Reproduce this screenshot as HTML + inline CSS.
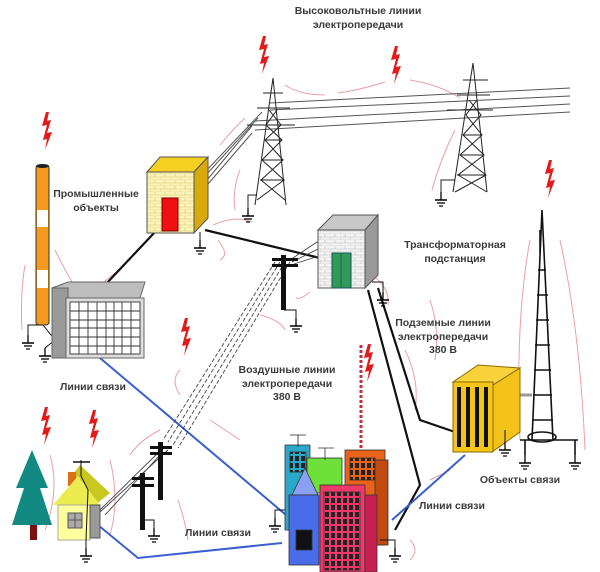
<!DOCTYPE html>
<html><head><meta charset="utf-8"><style>
html,body{margin:0;padding:0;background:#fff}
svg{display:block}
text{font-family:"Liberation Sans",sans-serif;font-weight:bold;font-size:10.5px;fill:#3a3a3a;text-anchor:middle}
</style></head><body>
<svg width="600" height="572" viewBox="0 0 600 572" xmlns="http://www.w3.org/2000/svg">
<defs>
<g id="gnd"><line x1="0" y1="0" x2="0" y2="8" stroke="#000" stroke-width="1.3"/><line x1="-6" y1="8" x2="6" y2="8" stroke="#000" stroke-width="1.5"/><line x1="-4" y1="11" x2="4" y2="11" stroke="#000" stroke-width="1.3"/><line x1="-2" y1="14" x2="2" y2="14" stroke="#000" stroke-width="1.2"/></g>
<g id="bolt"><path d="M0,0 L-4,14 L1,13 L-3,28 L1,27 L-1,38 L6,20 L1,21 L5,8 L1,9 L3,0 Z" fill="#e21a1a"/></g>
<pattern id="brick" width="10" height="6" patternUnits="userSpaceOnUse"><rect width="10" height="6" fill="#fbf3b8"/><path d="M0,6H10M0,3H10M5,0V3M0,3V6" stroke="#d8c878" stroke-width="0.6" fill="none"/></pattern>
<pattern id="brickg" width="10" height="6" patternUnits="userSpaceOnUse"><rect width="10" height="6" fill="#f3f3f3"/><path d="M0,6H10M0,3H10M5,0V3M0,3V6" stroke="#bbb" stroke-width="0.6" fill="none"/></pattern>
<pattern id="win" width="6" height="7" patternUnits="userSpaceOnUse"><rect width="6" height="7" fill="none"/><rect x="1" y="1" width="4" height="5" fill="#222"/></pattern>
</defs>

<text x="358" y="14">Высоковольтные линии</text>
<text x="358" y="28">электропередачи</text>

<g stroke="#e8a0a8" stroke-width="1" fill="none">
<path d="M285,85 Q300,95 325,95"/><path d="M385,82 Q360,90 338,93"/><path d="M410,80 Q440,85 460,98"/>
<path d="M245,118 Q232,130 220,145"/><path d="M240,170 Q232,190 235,210"/><path d="M455,130 Q440,160 432,190"/>
<path d="M213,225 Q235,215 252,222"/><path d="M218,240 Q230,255 220,260"/><path d="M55,250 Q65,270 72,282"/>
<path d="M25,265 Q20,295 22,330"/><path d="M100,285 L125,265"/><path d="M260,315 Q280,320 285,330"/>
<path d="M310,292 Q300,300 296,298"/><path d="M376,278 Q390,290 388,305"/><path d="M180,370 Q170,380 180,395"/>
<path d="M210,420 L240,440"/><path d="M160,430 Q140,440 130,455"/><path d="M110,460 Q120,500 110,535"/>
<path d="M50,455 Q60,490 45,530"/><path d="M178,500 Q185,520 188,540"/><path d="M405,350 Q420,380 415,410"/>
<path d="M430,300 Q440,330 435,360"/><path d="M505,400 Q495,420 500,450"/><path d="M560,240 Q580,330 585,450"/>
<path d="M530,240 Q515,320 520,440"/><path d="M410,540 Q420,550 410,560"/><path d="M430,480 L450,470"/>
</g>

<!-- power lines -->
<g stroke="#555" stroke-width="1">
<line x1="270" y1="103" x2="570" y2="88"/><line x1="270" y1="110" x2="570" y2="96"/>
<line x1="255" y1="121" x2="570" y2="104"/><line x1="255" y1="130" x2="570" y2="112"/>
<line x1="262" y1="112" x2="205" y2="172"/><line x1="258" y1="118" x2="205" y2="176"/><line x1="252" y1="126" x2="207" y2="180"/><line x1="252" y1="133" x2="208" y2="184"/>
</g>
<!-- towers -->
<g stroke="#222" stroke-width="1" fill="none">
<path d="M273,78 L255,205 M273,78 L286,205 M263,93 H283 M257,108 H290 M247,125 H295"/>
<path d="M269,110 L281,125 L265,140 L283,160 L261,180 L285,200 M277,110 L266,125 L282,140 L262,160 L284,180 L257,200"/>
<path d="M266,140H282M263,160H283M260,180H285"/>
<path d="M473,63 L453,192 M473,63 L487,192 M463,80 H488 M457,95 H490 M447,110 H493"/>
<path d="M469,100 L481,115 L463,135 L484,155 L458,175 L487,192 M477,100 L466,115 L482,135 L460,155 L486,175 L455,192"/>
<path d="M464,135H482M461,155H484M457,175H486"/>
<path d="M257,195 H248 V208 M455,180 H441 V192"/>
</g>
<use href="#gnd" x="248" y="208"/><use href="#gnd" x="441" y="192"/>

<use href="#bolt" x="263" y="36"/><use href="#bolt" x="395" y="46"/><use href="#bolt" x="46" y="112"/>
<use href="#bolt" x="549" y="160"/><use href="#bolt" x="185" y="318"/><use href="#bolt" x="368" y="344"/>
<use href="#bolt" x="45" y="407"/><use href="#bolt" x="93" y="410"/>

<g stroke="#111" stroke-width="2.2" fill="none">
<line x1="205" y1="230" x2="320" y2="258"/>
<line x1="155" y1="232" x2="105" y2="285"/>
<path d="M378,288 L420,420 L455,432"/>
<path d="M368,290 L420,485 L395,530"/>
</g>

<g stroke="#3a5fd0" stroke-width="2" fill="none">
<line x1="100" y1="358" x2="286" y2="515"/>
<path d="M98,525 L138,558 L282,543"/>
<line x1="392" y1="520" x2="465" y2="455"/>
</g>

<g stroke="#444" stroke-width="0.9" stroke-dasharray="4,2" fill="none">
<line x1="275" y1="262" x2="163" y2="440"/><line x1="280" y1="262" x2="168" y2="442"/>
<line x1="285" y1="262" x2="173" y2="445"/><line x1="290" y1="262" x2="178" y2="448"/>
</g>
<g stroke="#444" stroke-width="0.9" fill="none">
<path d="M163,448 L100,510 M168,450 L100,512 M160,455 L105,515"/>
<path d="M290,260 L320,240 M292,262 L320,248 M294,264 L322,255"/>
</g>

<!-- chimney -->
<rect x="36" y="165" width="13" height="160" rx="3" fill="#f39a1f" stroke="#333" stroke-width="1"/>
<rect x="37" y="210" width="11" height="17" fill="#fff"/><rect x="37" y="270" width="11" height="18" fill="#fff"/>
<ellipse cx="42.5" cy="166" rx="6.5" ry="2" fill="#222"/>
<path d="M43,325 L28,325 L28,335 M43,325 L55,340 L45,348" stroke="#111" fill="none"/>
<use href="#gnd" x="28" y="335"/><use href="#gnd" x="45" y="348"/>

<!-- gray grid box -->
<path d="M52,288 L68,282 L145,282 L140,298 L68,298 Z" fill="#bdbdbd" stroke="#666"/>
<rect x="52" y="288" width="16" height="70" fill="#9a9a9a" stroke="#666"/>
<rect x="66" y="298" width="78" height="60" fill="#ddd" stroke="#666"/>
<g stroke="#333" stroke-width="0.9" fill="#fff">
<rect x="70" y="302" width="70" height="52"/>
<path d="M79,302V354M88,302V354M97,302V354M106,302V354M114,302V354M122,302V354M131,302V354M70,311H140M70,320H140M70,328H140M70,337H140M70,346H140"/>
</g>

<!-- factory -->
<path d="M147,172 L160,157 L208,157 L194,172 Z" fill="#f5d020" stroke="#555"/>
<path d="M194,172 L208,157 L208,218 L194,233 Z" fill="#d9a90c" stroke="#555"/>
<rect x="147" y="172" width="47" height="61" fill="url(#brick)" stroke="#555"/>
<rect x="162" y="198" width="16" height="33" fill="#f01010" stroke="#700"/>
<path d="M200,232 V240" stroke="#111"/><use href="#gnd" x="200" y="240"/>

<!-- substation -->
<path d="M318,230 L333,215 L378,215 L365,230 Z" fill="#c8c8c8" stroke="#555"/>
<path d="M365,230 L378,215 L378,275 L365,288 Z" fill="#9a9a9a" stroke="#555"/>
<rect x="318" y="230" width="47" height="58" fill="url(#brickg)" stroke="#555"/>
<rect x="332" y="253" width="19" height="35" fill="#2f9a5a" stroke="#155"/>
<path d="M341,253V288" stroke="#1a6a3a"/>
<path d="M372,282 H383 V292" stroke="#111" fill="none"/><use href="#gnd" x="383" y="292"/>

<rect x="281" y="255" width="5" height="55" fill="#111"/>
<rect x="272" y="258" width="26" height="3" fill="#111"/><rect x="272" y="264" width="26" height="3" fill="#111"/>
<path d="M284,310 H296 V318" stroke="#111" fill="none"/><use href="#gnd" x="296" y="318"/>

<text x="96" y="197">Промышленные</text><text x="96" y="211">объекты</text>
<text x="455" y="248">Трансформаторная</text><text x="455" y="262">подстанция</text>
<text x="443" y="326">Подземные линии</text><text x="443" y="340">электропередачи</text><text x="443" y="353">380 В</text>
<text x="287" y="373">Воздушные линии</text><text x="287" y="387">электропередачи</text><text x="287" y="400">380 В</text>
<text x="93" y="390">Линии связи</text>
<text x="520" y="483">Объекты связи</text>
<text x="452" y="509">Линии связи</text>
<text x="218" y="536">Линии связи</text>

<!-- right tower -->
<g stroke="#111" stroke-width="1.6" fill="none">
<path d="M542,210 L532,440 M542,210 L553,440 M540,230 V255"/>
<path d="M538,270H546M537,295H548M536,320H549M535,345H550M534,370H551M533,395H552M532,420H553"/>
<ellipse cx="542" cy="437" rx="14" ry="5"/>
<path d="M520,440 H578 M525,440 V455 M575,440 V455"/>
</g>
<use href="#gnd" x="525" y="455"/><use href="#gnd" x="575" y="455"/>
<path d="M520,395 L532,395" stroke="#999" stroke-width="3"/>

<!-- yellow comms box -->
<path d="M453,382 L478,365 L520,368 L493,385 Z" fill="#f7d23a" stroke="#8a6a00"/>
<path d="M493,385 L520,368 L520,432 L492,452 Z" fill="#f2c21a" stroke="#8a6a00"/>
<rect x="453" y="382" width="40" height="70" fill="#f5c518" stroke="#8a6a00"/>
<g fill="#111"><rect x="457" y="387" width="4" height="60"/><rect x="466" y="387" width="4" height="60"/><rect x="475" y="387" width="4" height="60"/><rect x="484" y="387" width="4" height="60"/></g>
<path d="M505,430 V442" stroke="#111"/><use href="#gnd" x="505" y="442"/>

<!-- tree -->
<polygon points="32,450 48,488 40,488 52,525 12,525 24,488 16,488" fill="#128a82"/>
<rect x="30" y="525" width="7" height="15" fill="#7a1010"/>

<!-- house -->
<polygon points="80,465 110,493 95,505 70,478" fill="#c8c820"/>
<rect x="68" y="472" width="8" height="14" fill="#d87018"/>
<polygon points="53,505 78,476 100,505" fill="#ecec50"/>
<rect x="58" y="505" width="32" height="35" fill="#ffffa0" stroke="#aa9"/>
<rect x="68" y="513" width="14" height="15" fill="#aaa" stroke="#555"/>
<path d="M75,513V528M68,520H82" stroke="#555"/>
<rect x="90" y="505" width="10" height="33" fill="#999" stroke="#555"/>
<path d="M81,460 V476 L88,490 L86,540 V548" stroke="#111" fill="none"/>
<path d="M73,462 H90" stroke="#111" stroke-width="1.5"/>
<use href="#gnd" x="86" y="548"/>

<rect x="158" y="442" width="5" height="58" fill="#111"/>
<rect x="150" y="446" width="22" height="3" fill="#111"/><rect x="150" y="452" width="22" height="3" fill="#111"/>
<rect x="140" y="473" width="5" height="57" fill="#111"/>
<rect x="132" y="477" width="22" height="3" fill="#111"/><rect x="132" y="484" width="22" height="3" fill="#111"/>
<path d="M142,520 H154 V528" stroke="#111" fill="none"/><use href="#gnd" x="154" y="528"/>

<!-- city -->
<line x1="361" y1="345" x2="361" y2="455" stroke="#c03040" stroke-width="3" stroke-dasharray="3,2"/>
<g stroke="#333" stroke-width="0.8">
<rect x="285" y="445" width="25" height="85" fill="#2aa8c8"/>
<rect x="290" y="452" width="16" height="20" fill="url(#win)"/>
<path d="M298,435 V447 M290,435 H306" stroke="#222" fill="none"/>
<rect x="307" y="458" width="35" height="35" fill="#6ee03a"/>
<path d="M325,448 V460 M318,448 H334" fill="none"/>
<rect x="345" y="450" width="40" height="95" fill="#e8621a"/>
<rect x="350" y="458" width="25" height="22" fill="url(#win)"/>
<rect x="375" y="460" width="13" height="85" fill="#c04a10"/>
<polygon points="292,495 305,468 318,495" fill="#8aa0f0"/>
<rect x="289" y="495" width="30" height="70" fill="#4a6ce8"/>
<rect x="296" y="530" width="16" height="20" fill="#111"/>
<rect x="320" y="485" width="45" height="87" fill="#f0386a"/>
<rect x="324" y="492" width="36" height="78" fill="url(#win)"/>
<rect x="365" y="495" width="12" height="77" fill="#c82050"/>
</g>
<path d="M285,510 H275 V518" stroke="#111" fill="none"/><use href="#gnd" x="275" y="518"/>
<path d="M380,540 H395 V548" stroke="#111" fill="none"/><use href="#gnd" x="395" y="548"/>
</svg>
</body></html>
